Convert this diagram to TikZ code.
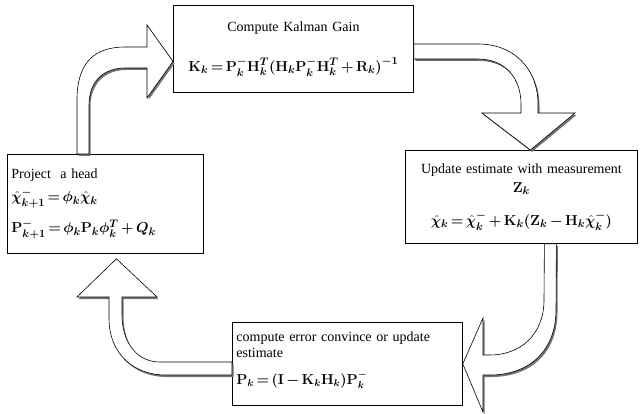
\documentclass[tikz,border=0pt]{standalone}
\usepackage{fontspec}
\setmainfont{Liberation Serif}
\usepackage{amsmath}
\usepackage{bm}
\newcommand{\fml}[2]{{\fontsize{#1}{#1}\selectfont\medmuskip=3mu\thickmuskip=3mu$\bm{#2}$}}
\begin{document}
\begin{tikzpicture}[x=1pt,y=-1pt]
\tikzset{
	stepbox/.style={rectangle,draw,line width=0.8pt,inner sep=4pt,font=\fontsize{14}{16}\selectfont},
	block arrow/.style={draw,fill=white,line width=0.6pt,line join=miter,
		preaction={fill=black!55,transform canvas={xshift=1.5pt,yshift=-2pt}}}
}
\useasboundingbox (0,0) rectangle (640,414);

\node[stepbox,anchor=north west,minimum width=240pt,minimum height=87pt,text width=232pt,align=center] (kalman) at (173,5) {Compute Kalman Gain\\[22pt] \fml{15}{\mathbf{K}_k=\mathbf{P}_k^{-}\mathbf{H}_k^{T}(\mathbf{H}_k\mathbf{P}_k^{-}\mathbf{H}_k^{T}+\mathbf{R}_k)^{-1}}};
\node[stepbox,anchor=north west,minimum width=232pt,minimum height=93pt,text width=224pt,align=center] (update) at (405,150) {Update estimate with measurement\\[3pt] \fml{15}{\mathbf{Z}_k}\\[17pt] \fml{15}{\hat{\chi}_k=\hat{\chi}_k^{-}+\mathbf{K}_k(\mathbf{Z}_k-\mathbf{H}_k\hat{\chi}_k^{-})}};
\node[stepbox,anchor=north west,minimum width=196pt,minimum height=99pt,text width=188pt,align=left] (project) at (7,154) {Project\ \ a head\\[6pt] \fml{15}{\hat{\chi}_{k+1}^{-}=\phi_k\hat{\chi}_k}\\[10pt] \fml{15}{\mathbf{P}_{k+1}^{-}=\phi_k\mathbf{P}_k\phi_k^{T}+Q_k}};
\node[stepbox,anchor=north west,minimum width=230pt,minimum height=83pt,text width=222pt,align=left] (errcov) at (232,322) {compute error convince or update\\estimate\\[11pt] \fml{14}{\mathbf{P}_k=(\mathbf{I}-\mathbf{K}_k\mathbf{H}_k)\mathbf{P}_k^{-}}\rule[-12pt]{0pt}{12pt}};

% project -> kalman
\path[block arrow] ([xshift=70pt]project.north west) -- (77,100)
	.. controls (77,62) and (95,47) .. (125,47) -- (147,47) -- (147,25)
	-- ([yshift=-12.5pt]kalman.west) -- (147,98) -- (147,68) -- (125,68)
	.. controls (105,68) and (89,80) .. (89,105) -- ([xshift=82pt]project.north west) -- cycle;
% kalman -> update
\path[block arrow] ([yshift=-39pt]kalman.north east) -- (478,44)
	.. controls (515,44) and (538,70) .. (538,104) -- (538,113) -- (575,113)
	-- ([xshift=9pt]update.north) -- (482,113) -- (521,113) -- (521,104)
	.. controls (521,78) and (505,59) .. (478,59) -- ([yshift=-54pt]kalman.north east) -- cycle;
% update -> errcov
\path[block arrow] ([xshift=23pt]update.south) -- (544,300)
	.. controls (544,335) and (520,355) .. (490,355) -- (483,355) -- (483,318)
	-- (errcov.east) -- (483,412) -- (483,375) -- (490,375)
	.. controls (530,375) and (556,350) .. (556,310) -- ([xshift=35pt]update.south) -- cycle;
% errcov -> project
\path[block arrow] ([yshift=-40pt]errcov.north west) -- (160,362)
	.. controls (135,362) and (122,340) .. (122,315) -- (122,297) -- (157,297)
	-- ([xshift=11pt,yshift=-5pt]project.south) -- (77,297) -- (109,297) -- (109,318)
	.. controls (109,355) and (135,375) .. (165,375) -- ([yshift=-53pt]errcov.north west) -- cycle;
\end{tikzpicture}
\end{document}
